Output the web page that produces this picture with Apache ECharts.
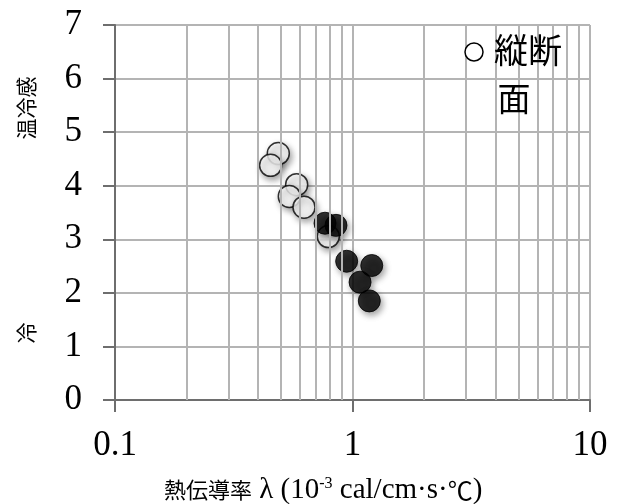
<!DOCTYPE html>
<html>
<head>
<meta charset="utf-8">
<script src="https://cdn.jsdelivr.net/npm/echarts@6/dist/echarts.min.js"></script>
<style>
  html, body { margin: 0; padding: 0; background: #fff; }
  #chart { width: 617px; height: 504px; }
</style>
</head>
<body>
<div id="chart"></div>
<script>
// Thermal conductivity (10^-3 cal/cm·s·℃) vs. warm/cool sensation score
const openLambda   = [0.487, 0.452, 0.582, 0.542, 0.625, 0.791];
const openSense    = [4.60, 4.38, 4.02, 3.80, 3.60, 3.05];
const filledLambda = [0.766, 0.852, 0.945, 1.205, 1.076, 1.177];
const filledSense  = [3.30, 3.26, 2.59, 2.51, 2.20, 1.85];

const xTickLabels = ['0.1', '1', '10'];
const yTicks = [0, 1, 2, 3, 4, 5, 6, 7];

// log-decade minor grid values: 0.2..0.9, 2..9
const minorGrid = [];
[0.1, 1].forEach(d => { for (let k = 2; k <= 9; k++) minorGrid.push(+(k * d).toFixed(2)); });

const zip = (xs, ys) => xs.map((x, i) => [x, ys[i]]);

const gridColor = '#b4b4b4';
const axisColor = '#6e6e6e';
const serif = '"Liberation Serif", "DejaVu Serif", serif';
const cjk = '"Noto Sans CJK JP", sans-serif';

const chart = echarts.init(document.getElementById('chart'), null, { renderer: 'canvas' });

const pointShadow = {
  shadowBlur: 6,
  shadowOffsetX: 2,
  shadowOffsetY: 3,
  shadowColor: 'rgba(0,0,0,0.45)'
};

chart.setOption({
  animation: false,
  backgroundColor: '#fff',
  grid: { left: 115, right: 27, top: 25, bottom: 104 },
  xAxis: {
    type: 'log',
    logBase: 10,
    min: 0.1,
    max: 10,
    axisLine: { show: true, lineStyle: { color: axisColor, width: 2 } },
    axisTick: { show: true, inside: false, length: 12, lineStyle: { color: axisColor, width: 2 } },
    splitLine: { show: true, lineStyle: { color: gridColor, width: 2 } },
    axisLabel: {
      margin: 28,
      fontFamily: serif,
      fontSize: 35,
      color: '#000',
      formatter: v => {
        const s = String(+v.toPrecision(3));
        return xTickLabels.includes(s) ? s : '';
      }
    }
  },
  yAxis: {
    type: 'value',
    min: 0,
    max: 7,
    interval: 1,
    axisLine: { show: true, lineStyle: { color: axisColor, width: 2 } },
    axisTick: { show: true, inside: false, length: 12, lineStyle: { color: axisColor, width: 2 } },
    splitLine: { show: true, lineStyle: { color: gridColor, width: 2 } },
    axisLabel: {
      margin: 33,
      fontFamily: serif,
      fontSize: 35,
      color: '#000',
      formatter: v => yTicks.includes(v) ? String(v) : ''
    }
  },
  series: [
    {
      name: 'grid',
      type: 'scatter',
      data: [],
      z: 1,
      silent: true,
      markLine: {
        silent: true,
        symbol: ['none', 'none'],
        label: { show: false },
        lineStyle: { color: gridColor, width: 2, type: 'solid' },
        emphasis: { disabled: true },
        data: minorGrid.map(v => ({ xAxis: v }))
      }
    },
    {
      name: '縦断面',
      type: 'scatter',
      z: 3,
      symbol: 'circle',
      symbolSize: 22,
      itemStyle: Object.assign({ color: '#fff', borderColor: '#000', borderWidth: 1.5 }, pointShadow),
      data: zip(openLambda, openSense)
    },
    {
      name: 'filled',
      type: 'scatter',
      z: 4,
      symbol: 'circle',
      symbolSize: 22,
      itemStyle: Object.assign({ color: '#000', borderColor: '#000', borderWidth: 1 }, pointShadow),
      data: zip(filledLambda, filledSense)
    }
  ],
  graphic: [
    // legend entry
    {
      type: 'circle',
      shape: { cx: 474, cy: 52, r: 9 },
      style: { fill: '#fff', stroke: '#000', lineWidth: 1.5 },
      z: 10
    },
    {
      type: 'text',
      x: 494, y: 50,
      style: { text: '縦断', font: '34px ' + cjk, fill: '#000', textAlign: 'left', textVerticalAlign: 'middle' },
      z: 10
    },
    {
      type: 'text',
      x: 514, y: 98,
      style: { text: '面', font: '33px ' + cjk, fill: '#000', textAlign: 'center', textVerticalAlign: 'middle' },
      z: 10
    },
    // y axis name
    {
      type: 'text',
      x: 26, y: 108,
      rotation: Math.PI / 2,
      style: { text: '温冷感', font: '21px ' + cjk, fill: '#000', textAlign: 'center', textVerticalAlign: 'middle' }
    },
    {
      type: 'text',
      x: 26, y: 333,
      rotation: Math.PI / 2,
      style: { text: '冷', font: '21px ' + cjk, fill: '#000', textAlign: 'center', textVerticalAlign: 'middle' }
    },
    // x axis name
    {
      type: 'text',
      x: 164, y: 490,
      style: {
        text: '{j|熱伝導率}{s| λ (10}{sup|-3}{s| cal/cm·s·}{c|℃}{s|)}',
        textAlign: 'left',
        textVerticalAlign: 'middle',
        fill: '#000',
        rich: {
          j: { fontFamily: cjk, fontSize: 22, color: '#000' },
          s: { fontFamily: serif, fontSize: 29, color: '#000' },
          c: { fontFamily: cjk, fontSize: 25, color: '#000' },
          sup: { fontFamily: serif, fontSize: 16, color: '#000', verticalAlign: 'top', padding: [0, 0, 13, 0] }
        }
      }
    }
  ]
});
</script>
</body>
</html>
